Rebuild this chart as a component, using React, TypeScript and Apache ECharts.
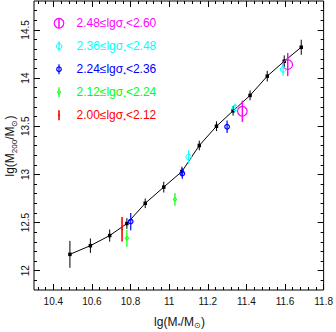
import React, { useEffect, useRef } from "react";
import * as echarts from "echarts";

const X_MIN = 10.3;
const X_MAX = 11.8;
const Y_MIN = 11.8;
const Y_MAX = 14.8;

const xMajorTicks = [10.4, 10.6, 10.8, 11.0, 11.2, 11.4, 11.6, 11.8];
const yMajorTicks = [12, 12.5, 13, 13.5, 14, 14.5];
const xMinorTicks: number[] = [];
for (let k = 0; k < 38; k++) xMinorTicks.push(Math.round((10.32 + k * 0.04) * 1000) / 1000);
const yMinorTicks: number[] = [];
for (let k = 1; k < 30; k++) yMinorTicks.push(Math.round((11.8 + k * 0.1) * 1000) / 1000);

// all galaxies (black)
const allX = [10.486, 10.592, 10.692, 10.781, 10.876, 10.972, 11.066, 11.156, 11.245, 11.331, 11.419, 11.508, 11.596, 11.684];
const allY = [12.17, 12.26, 12.365, 12.49, 12.70, 12.868, 13.03, 13.30, 13.50, 13.66, 13.82, 14.02, 14.175, 14.32];
const allErr = [0.14, 0.075, 0.063, 0.056, 0.05, 0.056, 0.05, 0.05, 0.05, 0.05, 0.05, 0.055, 0.06, 0.078];

// 2.00 <= lg sigma < 2.12 (red)
const redX = [10.756];
const redY = [12.43];
const redErr = [0.127];
// 2.12 <= lg sigma < 2.24 (green)
const greenX = [10.781, 11.03];
const greenY = [12.337, 12.74];
const greenErr = [0.088, 0.066];
// 2.24 <= lg sigma < 2.36 (blue)
const blueX = [10.801, 11.068, 11.3];
const blueY = [12.51, 13.01, 13.495];
const blueErr = [0.09, 0.055, 0.065];
// 2.36 <= lg sigma < 2.48 (cyan)
const cyanX = [11.101, 11.341, 11.59];
const cyanY = [13.18, 13.69, 14.09];
const cyanErr = [0.07, 0.045, 0.065];
// 2.48 <= lg sigma < 2.60 (magenta)
const magX = [11.379, 11.614];
const magY = [13.655, 14.14];
const magErr = [0.11, 0.12];

const legendLo = ["2.48", "2.36", "2.24", "2.12", "2.00"];
const legendHi = ["2.60", "2.48", "2.36", "2.24", "2.12"];

const FONT = "Liberation Sans";

type Marker = { r: number; filled: boolean; lw: number };
const groups = [
  { color: "#ff00ff", xs: magX, ys: magY, es: magErr, barW: 1.5, marker: { r: 4.8, filled: false, lw: 1.2 } },
  { color: "#00ffff", xs: cyanX, ys: cyanY, es: cyanErr, barW: 1.2, marker: { r: 2.8, filled: false, lw: 1 } },
  { color: "#0000ff", xs: blueX, ys: blueY, es: blueErr, barW: 1.2, marker: { r: 2.3, filled: false, lw: 1.2 } },
  { color: "#00ff00", xs: greenX, ys: greenY, es: greenErr, barW: 1.2, marker: { r: 1.6, filled: false, lw: 1 } },
  { color: "#ff0000", xs: redX, ys: redY, es: redErr, barW: 1.6, marker: { r: 0.9, filled: true, lw: 0 } },
];

function errSeries(xs: number[], ys: number[], es: number[], color: string, barW: number, marker: Marker | null, z: number) {
  return {
    type: "custom",
    xAxisIndex: 0,
    yAxisIndex: 0,
    silent: true,
    z,
    data: xs.map((x, i) => [x, ys[i], es[i]]),
    encode: { x: 0, y: 1 },
    renderItem: (_p: any, api: any) => {
      const x = api.value(0);
      const y = api.value(1);
      const e = api.value(2);
      const c = api.coord([x, y]);
      const lo = api.coord([x, y - e]);
      const hi = api.coord([x, y + e]);
      const children: any[] = [
        { type: "line", shape: { x1: c[0], y1: lo[1], x2: c[0], y2: hi[1] }, style: { stroke: color, lineWidth: barW } },
      ];
      if (marker) {
        children.push({
          type: "circle",
          shape: { cx: c[0], cy: c[1], r: marker.r },
          style: marker.filled
            ? { fill: color, stroke: null }
            : { fill: "none", stroke: color, lineWidth: marker.lw },
        });
      }
      return { type: "group", children };
    },
  };
}

function tickAxis(kind: "x" | "y", position: string, values: number[], len: number, labels: boolean) {
  const isX = kind === "x";
  return {
    type: "value",
    gridIndex: 0,
    position,
    min: isX ? X_MIN : Y_MIN,
    max: isX ? X_MAX : Y_MAX,
    axisLine: { show: false },
    splitLine: { show: false },
    axisTick: { show: true, inside: true, length: len, customValues: values, lineStyle: { color: "#000", width: 1 } },
    axisLabel: labels
      ? {
          show: true,
          customValues: values,
          fontFamily: FONT,
          fontSize: 10,
          color: "#111",
          margin: isX ? 6 : 4,
          rotate: isX ? 0 : 90,
          formatter: (v: number) => String(v),
        }
      : { show: false },
  };
}

export default function App() {
  const ref = useRef<HTMLDivElement>(null);
  useEffect(() => {
    if (!ref.current) return;
    const chart = echarts.init(ref.current, undefined, { renderer: "svg" });

    const legendGraphics: any[] = [];
    groups.forEach((g, i) => {
      const y = 23.3 + i * 23;
      legendGraphics.push({
        type: "line",
        shape: { x1: 59, y1: y - 5, x2: 59, y2: y + 5 },
        style: { stroke: g.color, lineWidth: g.barW },
      });
      legendGraphics.push({
        type: "circle",
        shape: { cx: 59, cy: y, r: g.marker.r },
        style: g.marker.filled ? { fill: g.color } : { fill: "none", stroke: g.color, lineWidth: g.marker.lw },
      });
      legendGraphics.push({
        type: "text",
        x: 76.5,
        y,
        style: {
          text: `${legendLo[i]}≤lgσ{s|*}<${legendHi[i]}`,
          fontFamily: FONT,
          fontSize: 12,
          fill: g.color,
          verticalAlign: "middle",
          lineHeight: 18,
          rich: { s: { fontSize: 7, lineHeight: 7, verticalAlign: "bottom", fill: g.color, fontFamily: FONT } },
        },
      });
    });

    const option: any = {
      animation: false,
      backgroundColor: "#fff",
      grid: { left: 34, right: 11, top: 1, bottom: 42, show: true, borderColor: "#000", borderWidth: 1, backgroundColor: "transparent" },
      xAxis: [
        tickAxis("x", "bottom", xMajorTicks, 6, true),
        tickAxis("x", "bottom", xMinorTicks, 3, false),
        tickAxis("x", "top", xMajorTicks, 6, false),
        tickAxis("x", "top", xMinorTicks, 3, false),
      ],
      yAxis: [
        tickAxis("y", "left", yMajorTicks, 6, true),
        tickAxis("y", "left", yMinorTicks, 3, false),
        tickAxis("y", "right", yMajorTicks, 6, false),
        tickAxis("y", "right", yMinorTicks, 3, false),
      ],
      series: [
        errSeries(allX, allY, allErr, "#000", 1, null, 2),
        {
          type: "line",
          xAxisIndex: 0,
          yAxisIndex: 0,
          data: allX.map((x, i) => [x, allY[i]]),
          symbol: "rect",
          symbolSize: 3.5,
          showSymbol: true,
          itemStyle: { color: "#000" },
          lineStyle: { color: "#000", width: 1 },
          z: 3,
          silent: true,
        },
        ...groups.map((g, i) => errSeries(g.xs, g.ys, g.es, g.color, g.barW, g.marker, 4 + i)),
      ],
      graphic: [
        ...legendGraphics,
        {
          type: "text",
          x: 179.5,
          y: 322,
          style: {
            text: "lg(M{s|*}/M{s|⊙})",
            fontFamily: FONT,
            fontSize: 12,
            fill: "#111",
            align: "center",
            verticalAlign: "middle",
            lineHeight: 15,
            rich: { s: { fontSize: 8, lineHeight: 8, verticalAlign: "bottom", fill: "#111", fontFamily: FONT } },
          },
        },
        {
          type: "text",
          x: 10,
          y: 146,
          rotation: Math.PI / 2,
          style: {
            text: "lg(M{s|200}/M{s|⊙})",
            fontFamily: FONT,
            fontSize: 12,
            fill: "#111",
            align: "center",
            verticalAlign: "middle",
            lineHeight: 16,
            rich: { s: { fontSize: 8, lineHeight: 8, verticalAlign: "bottom", fill: "#111", fontFamily: FONT } },
          },
        },
      ],
    };
    chart.setOption(option);
    return () => chart.dispose();
  }, []);
  return <div ref={ref} style={{ position: "fixed", left: 0, top: 0, width: 336, height: 332 }} />;
}
